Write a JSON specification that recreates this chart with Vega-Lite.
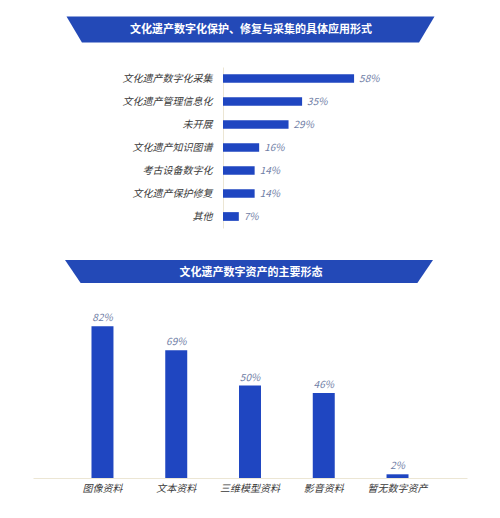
{
  "$schema": "https://vega.github.io/schema/vega-lite/v6.json",
  "padding": {"left": 33, "top": 16, "right": 10, "bottom": 10},
  "background": "white",
  "config": {
    "view": {"stroke": null},
    "font": "Noto Sans CJK SC",
    "text": {"font": "Noto Sans CJK SC"}
  },
  "datasets": {
    "forms": [
      {"item": "文化遗产数字化采集", "pct": 0.58},
      {"item": "文化遗产管理信息化", "pct": 0.35},
      {"item": "未开展", "pct": 0.29},
      {"item": "文化遗产知识图谱", "pct": 0.16},
      {"item": "考古设备数字化", "pct": 0.14},
      {"item": "文化遗产保护修复", "pct": 0.14},
      {"item": "其他", "pct": 0.07}
    ],
    "assets": [
      {"form": "图像资料", "pct": 0.82},
      {"form": "文本资料", "pct": 0.69},
      {"form": "三维模型资料", "pct": 0.50},
      {"form": "影音资料", "pct": 0.46},
      {"form": "暂无数字资产", "pct": 0.02}
    ]
  },
  "spacing": 31.5,
  "vconcat": [
    {
      "width": 416,
      "height": 161,
      "layer": [
        {
          "data": {"name": "forms"},
          "mark": {"type": "bar", "color": "#1f46c1"},
          "encoding": {
            "y": {
              "field": "item", "type": "nominal", "sort": null,
              "scale": {"paddingInner": 0.62, "paddingOuter": 0.31},
              "axis": {
                "title": null, "offset": -190, "ticks": false, "labelPadding": 11,
                "domainColor": "#ece6d4", "labelFontSize": 10, "labelColor": "#3a3a3a",
                "labelFont": "Noto Sans CJK SC", "labelFontStyle": "italic"
              }
            },
            "x": {
              "field": "pct", "type": "quantitative",
              "scale": {"domain": [-0.8407, 1.0], "nice": false, "zero": false},
              "axis": null
            }
          }
        },
        {
          "data": {"name": "forms"},
          "mark": {"type": "text", "align": "left", "baseline": "middle", "dx": 5, "fontSize": 10, "fontStyle": "italic", "color": "#6f7ea6"},
          "encoding": {
            "y": {"field": "item", "type": "nominal", "sort": null},
            "x": {"field": "pct", "type": "quantitative"},
            "text": {"field": "pct", "type": "quantitative", "format": ".0%"}
          }
        },
        {
          "data": {"values": [{"banner": "top"}]},
          "mark": {"type": "point", "filled": true, "opacity": 1, "color": "#2349b7", "size": 135424,
                   "shape": "M-1,-0.0707L1,-0.0707L0.916,0.0707L-0.916,0.0707Z"},
          "encoding": {"x": {"value": 217.5}, "y": {"value": -37.5}}
        },
        {
          "data": {"values": [{"title": "文化遗产数字化保护、修复与采集的具体应用形式"}]},
          "mark": {"type": "text", "color": "white", "fontWeight": "bold", "fontSize": 11, "align": "center", "baseline": "middle"},
          "encoding": {"x": {"value": 218}, "y": {"value": -37.5}, "text": {"field": "title"}}
        }
      ]
    },
    {
      "width": 434,
      "height": 166.5,
      "layer": [
        {
          "data": {"name": "assets"},
          "mark": {"type": "bar", "color": "#1f46c1"},
          "encoding": {
            "x": {
              "field": "form", "type": "nominal", "sort": null,
              "scale": {"paddingInner": 0.702, "paddingOuter": 0.793},
              "axis": {
                "title": null, "labelAngle": 0, "ticks": false, "labelPadding": 5,
                "domainColor": "#ece6d4", "labelFontSize": 10, "labelColor": "#3a3a3a",
                "labelFont": "Noto Sans CJK SC", "labelFontStyle": "italic"
              }
            },
            "y": {
              "field": "pct", "type": "quantitative",
              "scale": {"domain": [0, 0.9], "nice": false},
              "axis": null
            }
          }
        },
        {
          "data": {"name": "assets"},
          "mark": {"type": "text", "align": "center", "baseline": "bottom", "dy": -3, "fontSize": 10, "fontStyle": "italic", "color": "#6f7ea6"},
          "encoding": {
            "x": {"field": "form", "type": "nominal", "sort": null},
            "y": {"field": "pct", "type": "quantitative"},
            "text": {"field": "pct", "type": "quantitative", "format": ".0%"}
          }
        },
        {
          "data": {"values": [{"banner": "bottom"}]},
          "mark": {"type": "point", "filled": true, "opacity": 1, "color": "#2349b7", "size": 135424,
                   "shape": "M-1,-0.0625L1,-0.0625L0.915,0.0625L-0.915,0.0625Z"},
          "encoding": {"x": {"value": 216}, "y": {"value": -40}}
        },
        {
          "data": {"values": [{"title": "文化遗产数字资产的主要形态"}]},
          "mark": {"type": "text", "color": "white", "fontWeight": "bold", "fontSize": 11, "align": "center", "baseline": "middle"},
          "encoding": {"x": {"value": 218}, "y": {"value": -38.5}, "text": {"field": "title"}}
        }
      ]
    }
  ]
}
